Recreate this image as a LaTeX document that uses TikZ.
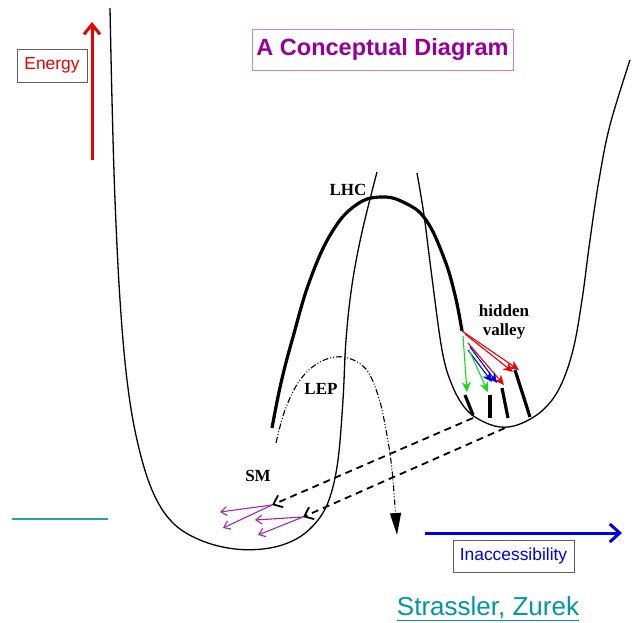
\documentclass[tikz,border=0pt]{standalone}
\usepackage{fontspec}
\setmainfont{Liberation Serif}
\setsansfont{Liberation Sans}
\usetikzlibrary{arrows.meta}

\definecolor{titlepurple}{RGB}{150,0,150}
\definecolor{titleframe}{RGB}{200,130,210}
\definecolor{smpurple}{RGB}{160,40,170}
\definecolor{citeteal}{RGB}{0,150,165}
\definecolor{lineteal}{RGB}{40,160,160}
\definecolor{keyred}{RGB}{235,0,0}
\definecolor{keyblue}{RGB}{0,0,225}
\definecolor{hvgreen}{RGB}{20,220,20}

\tikzset{
    well/.style={line width=1.3pt},
    beam/.style={line width=3.2pt},
    lep/.style={line width=1.1pt, dash pattern=on 6pt off 2pt on 1pt off 2pt on 1pt off 2pt},
    lbl/.style={font=\bfseries\fontsize{17}{19}\selectfont},
    keybox/.style={draw=gray!75!black, line width=0.8pt, inner sep=0pt,
        font=\sffamily\fontsize{17.4}{18}\selectfont},
    decay/.style={line width=1.1pt, -{Stealth[length=10pt,width=9pt]}},
}

\begin{document}
\begin{tikzpicture}[x=1pt, y=-1pt]
        \useasboundingbox (0,0) rectangle (633,623);

        % 标题
        \node[draw=titleframe, line width=0.9pt, minimum width=261pt, minimum height=41pt, inner sep=0pt,
              text=titlepurple, font=\sffamily\bfseries\fontsize{23.5}{24}\selectfont]
              (title) at (382.5,49.5) {A Conceptual Diagram};

        % Energy axis
        \coordinate (elow) at (92,160);
        \coordinate (ehigh) at (92,22);
        \draw[keyred, line width=3pt, -{Straight Barb[length=10pt,width=16pt]}] (elow) -- (ehigh);
        \node[keybox, text=keyred, minimum width=70pt, minimum height=33pt] (energy) at (52,65.5) {Energy};

        % Inaccessibility axis
        \coordinate (ileft) at (425,533);
        \coordinate (iright) at (622,533);
        \draw[keyblue, line width=3pt, -{Straight Barb[length=10pt,width=18pt]}] (ileft) -- (iright);
        \node[keybox, text=keyblue, minimum width=121pt, minimum height=32pt] (inacc) at (513.5,556) {Inaccessibility};

        % 左边的短线
        \coordinate (tl) at (12,519);
        \coordinate (tr) at (108,519);
        \draw[lineteal, line width=1.4pt] (tl) -- (tr);

        % SM well
        \draw[well] plot[smooth, tension=0.6] coordinates {
            (110,8) (112,100) (115,200) (120,300) (127,380) (137,440) (152,490)
            (172,522) (200,540) (235,549) (270,548) (298,538) (318,520) (330,497)
            (338,460) (343,400) (346,340) (352,285) (362,232) (377,172)};

        % hidden valley well
        \draw[well] plot[smooth, tension=0.6] coordinates {
            (417,173) (424,215) (431,270) (442,350) (452,385) (465,408) (480,420)
            (500,427) (520,424) (543,410) (560,387) (573,350) (582,300) (590,240)
            (599,180) (610,125) (630,60)};

        % LHC
        \draw[beam] plot[smooth, tension=0.7] coordinates {
            (272,428) (281,383) (293,337) (310,280) (332,232) (356,205) (381,197)
            (405,203) (426,220) (444,258) (455,295) (462,331)};
        \node[lbl] (lhc) at (348,190) {LHC};

        % LEP
        \draw[lep, -{Triangle[length=22pt,width=11pt]}] plot[smooth, tension=0.6] coordinates {
            (276,443) (285,410) (300,380) (320,362) (343,357) (365,368) (378,395)
            (386,430) (392,470) (397,535)};
        \node[lbl] (lep) at (321,389) {LEP};

        % hidden valley decays
        \coordinate (hv) at (462,331);
        \draw[decay, keyred] (hv) -- (519,370);
        \draw[decay, keyred] ([xshift=3pt,yshift=-3pt]hv) -- (513,372);
        \draw[decay, keyred] (468,343) -- (504,385);
        \draw[decay, keyblue] (470,347) -- (497,383);
        \draw[decay, keyblue] (468,350) -- (492,382);
        \draw[decay, hvgreen] (463,336) -- (467,392);
        \draw[decay, hvgreen] (469,350) -- (488,392);
        \foreach \a/\b/\c/\d in {465/395/473/415, 490/395/490/418, 502/388/508/418, 515/370/530/417}
            \draw[beam] (\a,\b) -- (\c,\d);
        \node[lbl, align=center] (hidden) at (504,322) {hidden\\valley};

        % 回到 SM
        \coordinate (hv1) at (473,418);
        \coordinate (sm1) at (272,505);
        \coordinate (hv2) at (505,428);
        \coordinate (sm2) at (303,517);
        \draw[line width=1.8pt, dash pattern=on 7pt off 5pt, -{Straight Barb[length=8pt,width=13pt]}] (hv1) -- (sm1);
        \draw[line width=1.8pt, dash pattern=on 7pt off 5pt, -{Straight Barb[length=8pt,width=13pt]}] (hv2) -- (sm2);
        \foreach \s/\x/\y in {sm1/220/512, sm1/223/528, sm2/255/520, sm2/258/535}
            \draw[smpurple, line width=1.1pt, -{Straight Barb[length=6pt,width=9pt]}] (\s) -- (\x,\y);
        \node[lbl] (sm) at (258,476) {SM};

        % 引用
        \node[anchor=base, text=citeteal, font=\sffamily\fontsize{26}{28}\selectfont]
              (cite) at (488,615) {\underline{Strassler, Zurek}};

    \end{tikzpicture}
\end{document}
